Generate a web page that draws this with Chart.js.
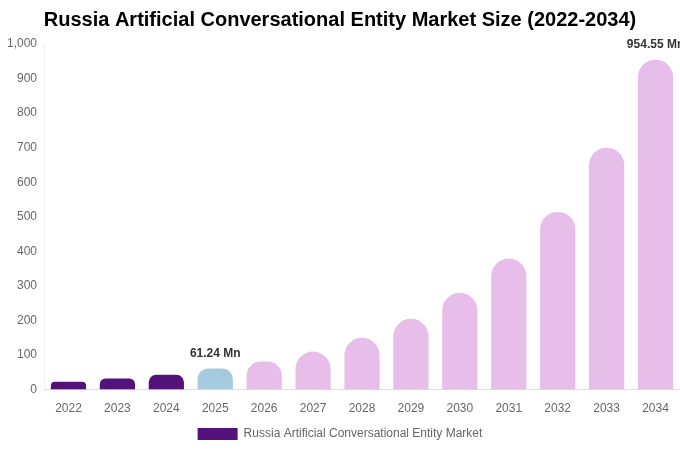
<!DOCTYPE html>
<html>
<head>
<meta charset="utf-8">
<script src="https://cdn.jsdelivr.net/npm/chart.js@4"></script>
<style>
  html, body { margin: 0; padding: 0; background: #fff; }
  #wrap { width: 680px; height: 450px; }
</style>
</head>
<body>
<div id="wrap"><canvas id="chart"></canvas></div>
<script>
const years = ['2022', '2023', '2024', '2025', '2026', '2027', '2028', '2029', '2030', '2031', '2032', '2033', '2034'];
const marketSize = [23, 32, 43, 61.24, 81, 110, 150, 205, 280, 379, 514, 700, 954.55];
const labelledPoints = { 3: '61.24 Mn', 12: '954.55 Mn' };
const yTicks = [0, 100, 200, 300, 400, 500, 600, 700, 800, 900, 1000];

const barColors = years.map((y, i) => i < 3 ? '#54137a' : (i == 3 ? '#a6cbe0' : '#e7bde9'));

// draws the value labels above the chosen bars
const valueLabels = {
  id: 'valueLabels',
  afterDatasetsDraw(chart) {
    let ctx = chart.ctx;
    let meta = chart.getDatasetMeta(0);
    ctx.save();
    ctx.font = 'bold 12px "Liberation Sans", Arial, sans-serif';
    ctx.fillStyle = '#333';
    ctx.textAlign = 'center';
    ctx.textBaseline = 'bottom';
    Object.keys(labelledPoints).forEach(i => {
      let bar = meta.data[i];
      ctx.fillText(labelledPoints[i], bar.x, bar.y - 9);
    });
    ctx.restore();
  }
};

new Chart(document.getElementById('chart'), {
  type: 'bar',
  data: {
    labels: years,
    datasets: [{
      label: 'Russia Artificial Conversational Entity Market',
      data: marketSize,
      backgroundColor: barColors,
      borderRadius: { topLeft: 18, topRight: 18 },
      borderSkipped: 'start',
      barPercentage: 0.72,
      categoryPercentage: 1
    }]
  },
  options: {
    responsive: true,
    maintainAspectRatio: false,
    animation: false,
    layout: { padding: { left: 0, right: 0, top: 0, bottom: 0 } },
    plugins: {
      title: {
        display: true,
        text: 'Russia Artificial Conversational Entity Market Size (2022-2034)',
        color: '#000',
        font: { family: '"Liberation Sans", Arial, sans-serif', size: 20, weight: 'bold' },
        padding: { top: 8, bottom: 12 }
      },
      legend: {
        position: 'bottom',
        labels: {
          boxWidth: 40,
          boxHeight: 12,
          padding: 8,
          color: '#666',
          font: { family: '"Liberation Sans", Arial, sans-serif', size: 12 },
          generateLabels: chart => [{
            text: 'Russia Artificial Conversational Entity Market',
            fillStyle: '#54137a',
            strokeStyle: '#54137a',
            lineWidth: 0,
            fontColor: '#666',
            datasetIndex: 0
          }]
        }
      },
      tooltip: { enabled: false }
    },
    scales: {
      x: {
        grid: { display: false },
        border: { color: '#ddd' },
        ticks: { color: '#666', font: { family: '"Liberation Sans", Arial, sans-serif', size: 12 }, padding: 4 }
      },
      y: {
        min: 0,
        max: 1000,
        afterBuildTicks: axis => { axis.ticks = yTicks.map(v => ({ value: v })); },
        grid: { display: false, drawTicks: false },
        border: { color: '#eee' },
        ticks: {
          color: '#666',
          font: { family: '"Liberation Sans", Arial, sans-serif', size: 12 },
          padding: 7,
          callback: v => v.toLocaleString('en-US')
        }
      }
    }
  },
  plugins: [valueLabels]
});
</script>
</body>
</html>
